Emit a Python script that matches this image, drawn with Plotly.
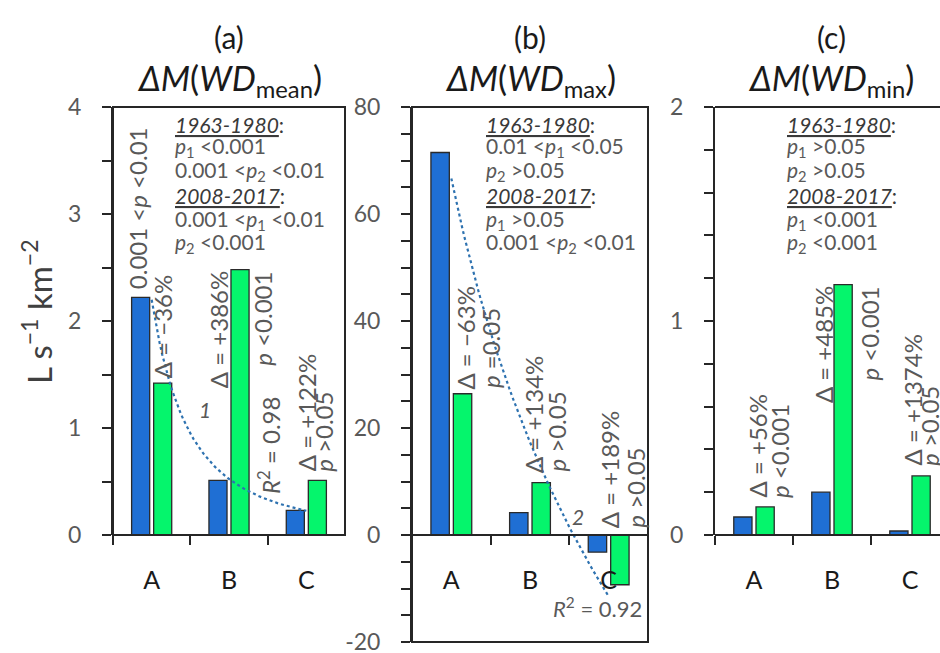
import numpy as np
import plotly.graph_objects as go

# ---- data -------------------------------------------------------------
categories = ["A", "B", "C"]
periods = ["1963-1980", "2008-2017"]

# ΔM(WD_mean), L s-1 km-2
mean_1963 = [2.22, 0.51, 0.23]
mean_2008 = [1.42, 2.48, 0.51]
# ΔM(WD_max)
max_1963 = [71.5, 4.2, -3.2]
max_2008 = [26.4, 9.8, -9.3]
# ΔM(WD_min)
min_1963 = [0.084, 0.20, 0.0187]
min_2008 = [0.131, 1.17, 0.276]

panel_letters = ["(a)", "(b)", "(c)"]
panel_vars = ["mean", "max", "min"]

W, H = 940, 653
FONT = "Lato"
BLUE = "#1f6fd4"
GREEN = "#05f56c"
EDGE = "#2a2a2a"
AXIS = "#262626"
GREY = "#595959"
FIT = "#2e72b0"


def px(x):
    return x / W


def py(y):
    return 1 - y / H


# panel geometry in pixels: x-domain, y-domain (top, bottom)
panels = [
    dict(xd=(113, 345), yd=(107, 535), yr=(0, 4), dt=1, mn=0.5,
         xr=(-0.5, 2.5), v1=mean_1963, v2=mean_2008),
    dict(xd=(412, 648), yd=(107, 642), yr=(-20, 80), dt=20, mn=5,
         xr=(-0.5, 2.5), v1=max_1963, v2=max_2008),
    dict(xd=(715, 940), yd=(107, 535), yr=(0, 2), dt=1, mn=0.2,
         xr=(-0.5, -0.5 + 225 / 78), v1=min_1963, v2=min_2008),
]

fig = go.Figure()
xpos = np.arange(len(categories))

for i, p in enumerate(panels):
    sfx = "" if i == 0 else str(i + 1)
    for vals, col, name in ((p["v1"], BLUE, periods[0]), (p["v2"], GREEN, periods[1])):
        fig.add_trace(go.Bar(
            x=xpos, y=vals, name=name, xaxis="x" + sfx, yaxis="y" + sfx,
            marker=dict(color=col, line=dict(color=EDGE, width=1.3)),
            showlegend=False, hoverinfo="skip"))

    y0, y1 = p["yr"]
    ydom = (py(p["yd"][1]), py(p["yd"][0]))
    zero_pos = ydom[0] + (0 - y0) / (y1 - y0) * (ydom[1] - ydom[0])
    tvals = list(np.arange(y0, y1 + p["dt"] / 2, p["dt"]))
    ttext = ["%g" % v for v in tvals]

    xa = dict(domain=[px(p["xd"][0]), px(p["xd"][1])], range=list(p["xr"]),
              tickvals=list(xpos), ticktext=categories, ticks="",
              showline=True, linecolor=AXIS, linewidth=2,
              showgrid=False, zeroline=False, automargin=False,
              tickfont=dict(family=FONT, size=25, color="#1a1a1a"),
              ticklabelstandoff=23,
              minor=dict(tickvals=[-0.5, 0.5, 1.5], ticks="outside", ticklen=9,
                         tickwidth=2, tickcolor=AXIS),
              anchor="free", position=zero_pos)
    ya = dict(domain=list(ydom), range=[y0, y1], tickvals=tvals, ticktext=ttext,
              ticks="outside", ticklen=9, tickwidth=2, tickcolor=AXIS,
              showline=True, linecolor=AXIS, linewidth=2,
              showgrid=False, zeroline=False, automargin=False,
              tickfont=dict(family=FONT, size=23, color=GREY),
              ticklabelstandoff=16, ticklabeloverflow="allow",
              minor=dict(dtick=p["mn"], tick0=0, ticks="outside", ticklen=9,
                         tickwidth=2, tickcolor=AXIS),
              anchor="x" + sfx)
    fig.update_layout(**{"xaxis" + sfx: xa, "yaxis" + sfx: ya})

    # frame around the plotting area
    if i < 2:
        fig.add_shape(type="rect", xref="x%s domain" % sfx, yref="y%s domain" % sfx,
                      x0=0, x1=1, y0=0, y1=1, line=dict(color=AXIS, width=2))
    else:
        fig.add_shape(type="line", xref="x%s domain" % sfx, yref="y%s domain" % sfx,
                      x0=0, x1=1, y0=1, y1=1, line=dict(color=AXIS, width=2))

    # panel titles, centred over the category span
    cx = px(p["xd"][0] + 3 * 77.5 / 2) if i == 2 else px(sum(p["xd"]) / 2)
    fig.add_annotation(text=panel_letters[i], xref="paper", yref="paper",
                       x=cx, y=py(37), xanchor="center", yanchor="middle",
                       showarrow=False,
                       font=dict(family=FONT, size=30, color="#1a1a1a"))
    fig.add_annotation(text="<i>ΔM</i>(<i>WD</i><sub>%s</sub>)" % panel_vars[i],
                       xref="paper", yref="paper", x=cx, y=py(80),
                       xanchor="center", yanchor="middle", showarrow=False,
                       font=dict(family=FONT, size=34, color="#1a1a1a"))

# ---- fitted trend lines through the 1963-1980 bars --------------------
rank = xpos + 1.0
# (1) power fit for WD_mean
b1, a1 = np.polyfit(np.log(rank), np.log(mean_1963), 1)
xf = np.linspace(0, 2, 60)
fig.add_trace(go.Scatter(x=xf, y=np.exp(a1) * (xf + 1) ** b1, mode="lines",
                         line=dict(color=FIT, width=2.2, dash="dot"),
                         xaxis="x", yaxis="y", showlegend=False, hoverinfo="skip"))
# (2) logarithmic fit for WD_max
b2, a2 = np.polyfit(np.log(rank), max_1963, 1)
fig.add_trace(go.Scatter(x=xf, y=a2 + b2 * np.log(xf + 1), mode="lines",
                         line=dict(color=FIT, width=2.2, dash="dot"),
                         xaxis="x2", yaxis="y2", showlegend=False, hoverinfo="skip"))

# ---- significance blocks ---------------------------------------------
def u(s):
    return "<i><u>%s</u></i>:" % s


P1 = "<i>p</i><sub>1</sub>"
P2 = "<i>p</i><sub>2</sub>"
blocks = [
    (173, [u("1963-1980"), P1 + " <0.001", "0.001 <" + P2 + " <0.01",
           u("2008-2017"), "0.001 <" + P1 + " <0.01", P2 + " <0.001"]),
    (484, [u("1963-1980"), "0.01 <" + P1 + " <0.05", P2 + " >0.05",
           u("2008-2017"), P1 + " >0.05", "0.001 <" + P2 + " <0.01"]),
    (785, [u("1963-1980"), P1 + " >0.05", P2 + " >0.05",
           u("2008-2017"), P1 + " <0.001", P2 + " <0.001"]),
]
line_y = [124, 147, 171, 195, 220, 243]
for x0, lines in blocks:
    for k, t in enumerate(lines):
        hdr = k in (0, 3)
        fig.add_annotation(text=t, xref="paper", yref="paper", x=px(x0), y=py(line_y[k]),
                           xanchor="left", yanchor="middle", showarrow=False,
                           font=dict(family=FONT, size=21,
                                     color="#3a3a3a" if hdr else GREY))

# ---- rotated change / p labels beside the bars -------------------------
# (axis suffix, category, anchor value, xshift, yanchor, yshift, text)
rot = [
    ("", 0, mean_1963[0], -14, "bottom", 6, "0.001 <<i>p</i> <0.01"),
    ("", 0, mean_2008[0], 11, "bottom", 3, "Δ = −36%"),
    ("", 1, mean_2008[1], -11, "top", 0, "Δ = +386%"),
    ("", 1, mean_2008[1], 34, "top", 0, "<i>p</i> <0.001"),
    ("", 1, 0.36, 40, "bottom", 0, "<i>R</i><sup>2</sup> = 0.98"),
    ("", 2, mean_2008[2], 1, "bottom", 7, "Δ = +122%"),
    ("", 2, mean_2008[2], 17, "bottom", 7, "<i>p</i> >0.05"),
    ("2", 0, max_2008[0], 14, "bottom", 2, "Δ = −63%"),
    ("2", 0, max_2008[0], 39, "bottom", 4, "<i>p</i> =0.05"),
    ("2", 1, max_2008[1], 3, "bottom", 7, "Δ = +134%"),
    ("2", 1, max_2008[1], 27, "bottom", 9, "<i>p</i> >0.05"),
    ("2", 2, 0, 1, "bottom", 5, "Δ = +189%"),
    ("2", 2, 0, 26, "bottom", 5, "<i>p</i> >0.05"),
    ("3", 0, min_2008[0], 3, "bottom", 7, "Δ = +56%"),
    ("3", 0, min_2008[0], 26, "bottom", 7, "<i>p</i> <0.001"),
    ("3", 1, min_2008[1], -9, "top", 0, "Δ = +485%"),
    ("3", 1, min_2008[1], 38, "top", 0, "<i>p</i> <0.001"),
    ("3", 2, min_2008[2], 2, "bottom", 8, "Δ = +1374%"),
    ("3", 2, min_2008[2], 20, "bottom", 8, "<i>p</i> >0.05"),
]
for sfx, cat, yv, xs, ya, ys, t in rot:
    fig.add_annotation(text=t, xref="x" + sfx, yref="y" + sfx, x=cat, y=yv,
                       xshift=xs, yshift=ys, textangle=-90, xanchor="center",
                       yanchor=ya, showarrow=False,
                       font=dict(family=FONT, size=24, color=GREY))

# fit labels
fig.add_annotation(text="<i>1</i>", xref="x", yref="y", x=0.695, y=1.17,
                   xanchor="center", yanchor="middle", showarrow=False,
                   font=dict(family=FONT, size=21, color=GREY))
fig.add_annotation(text="<i>2</i>", xref="x2", yref="y2", x=1.61, y=3.4,
                   xanchor="center", yanchor="middle", showarrow=False,
                   font=dict(family=FONT, size=21, color=GREY))
fig.add_annotation(text="<i>R</i><sup>2</sup> = 0.92", xref="x2", yref="y2", x=1.86, y=-13.6,
                   xanchor="center", yanchor="middle", showarrow=False,
                   font=dict(family=FONT, size=22, color=GREY))

# y-axis unit
fig.add_annotation(text="L s<sup>−1</sup> km<sup>−2</sup>", xref="paper", yref="paper",
                   x=px(37), y=py(312), xanchor="center", yanchor="middle",
                   textangle=-90, showarrow=False,
                   font=dict(family=FONT, size=33, color="#404040"))

fig.update_layout(width=W, height=H, margin=dict(l=0, r=0, t=0, b=0, autoexpand=False),
                  paper_bgcolor="white", plot_bgcolor="white",
                  barmode="group", bargap=0.43, bargroupgap=0.18,
                  showlegend=False, font=dict(family=FONT))

fig.write_html("out.html")
